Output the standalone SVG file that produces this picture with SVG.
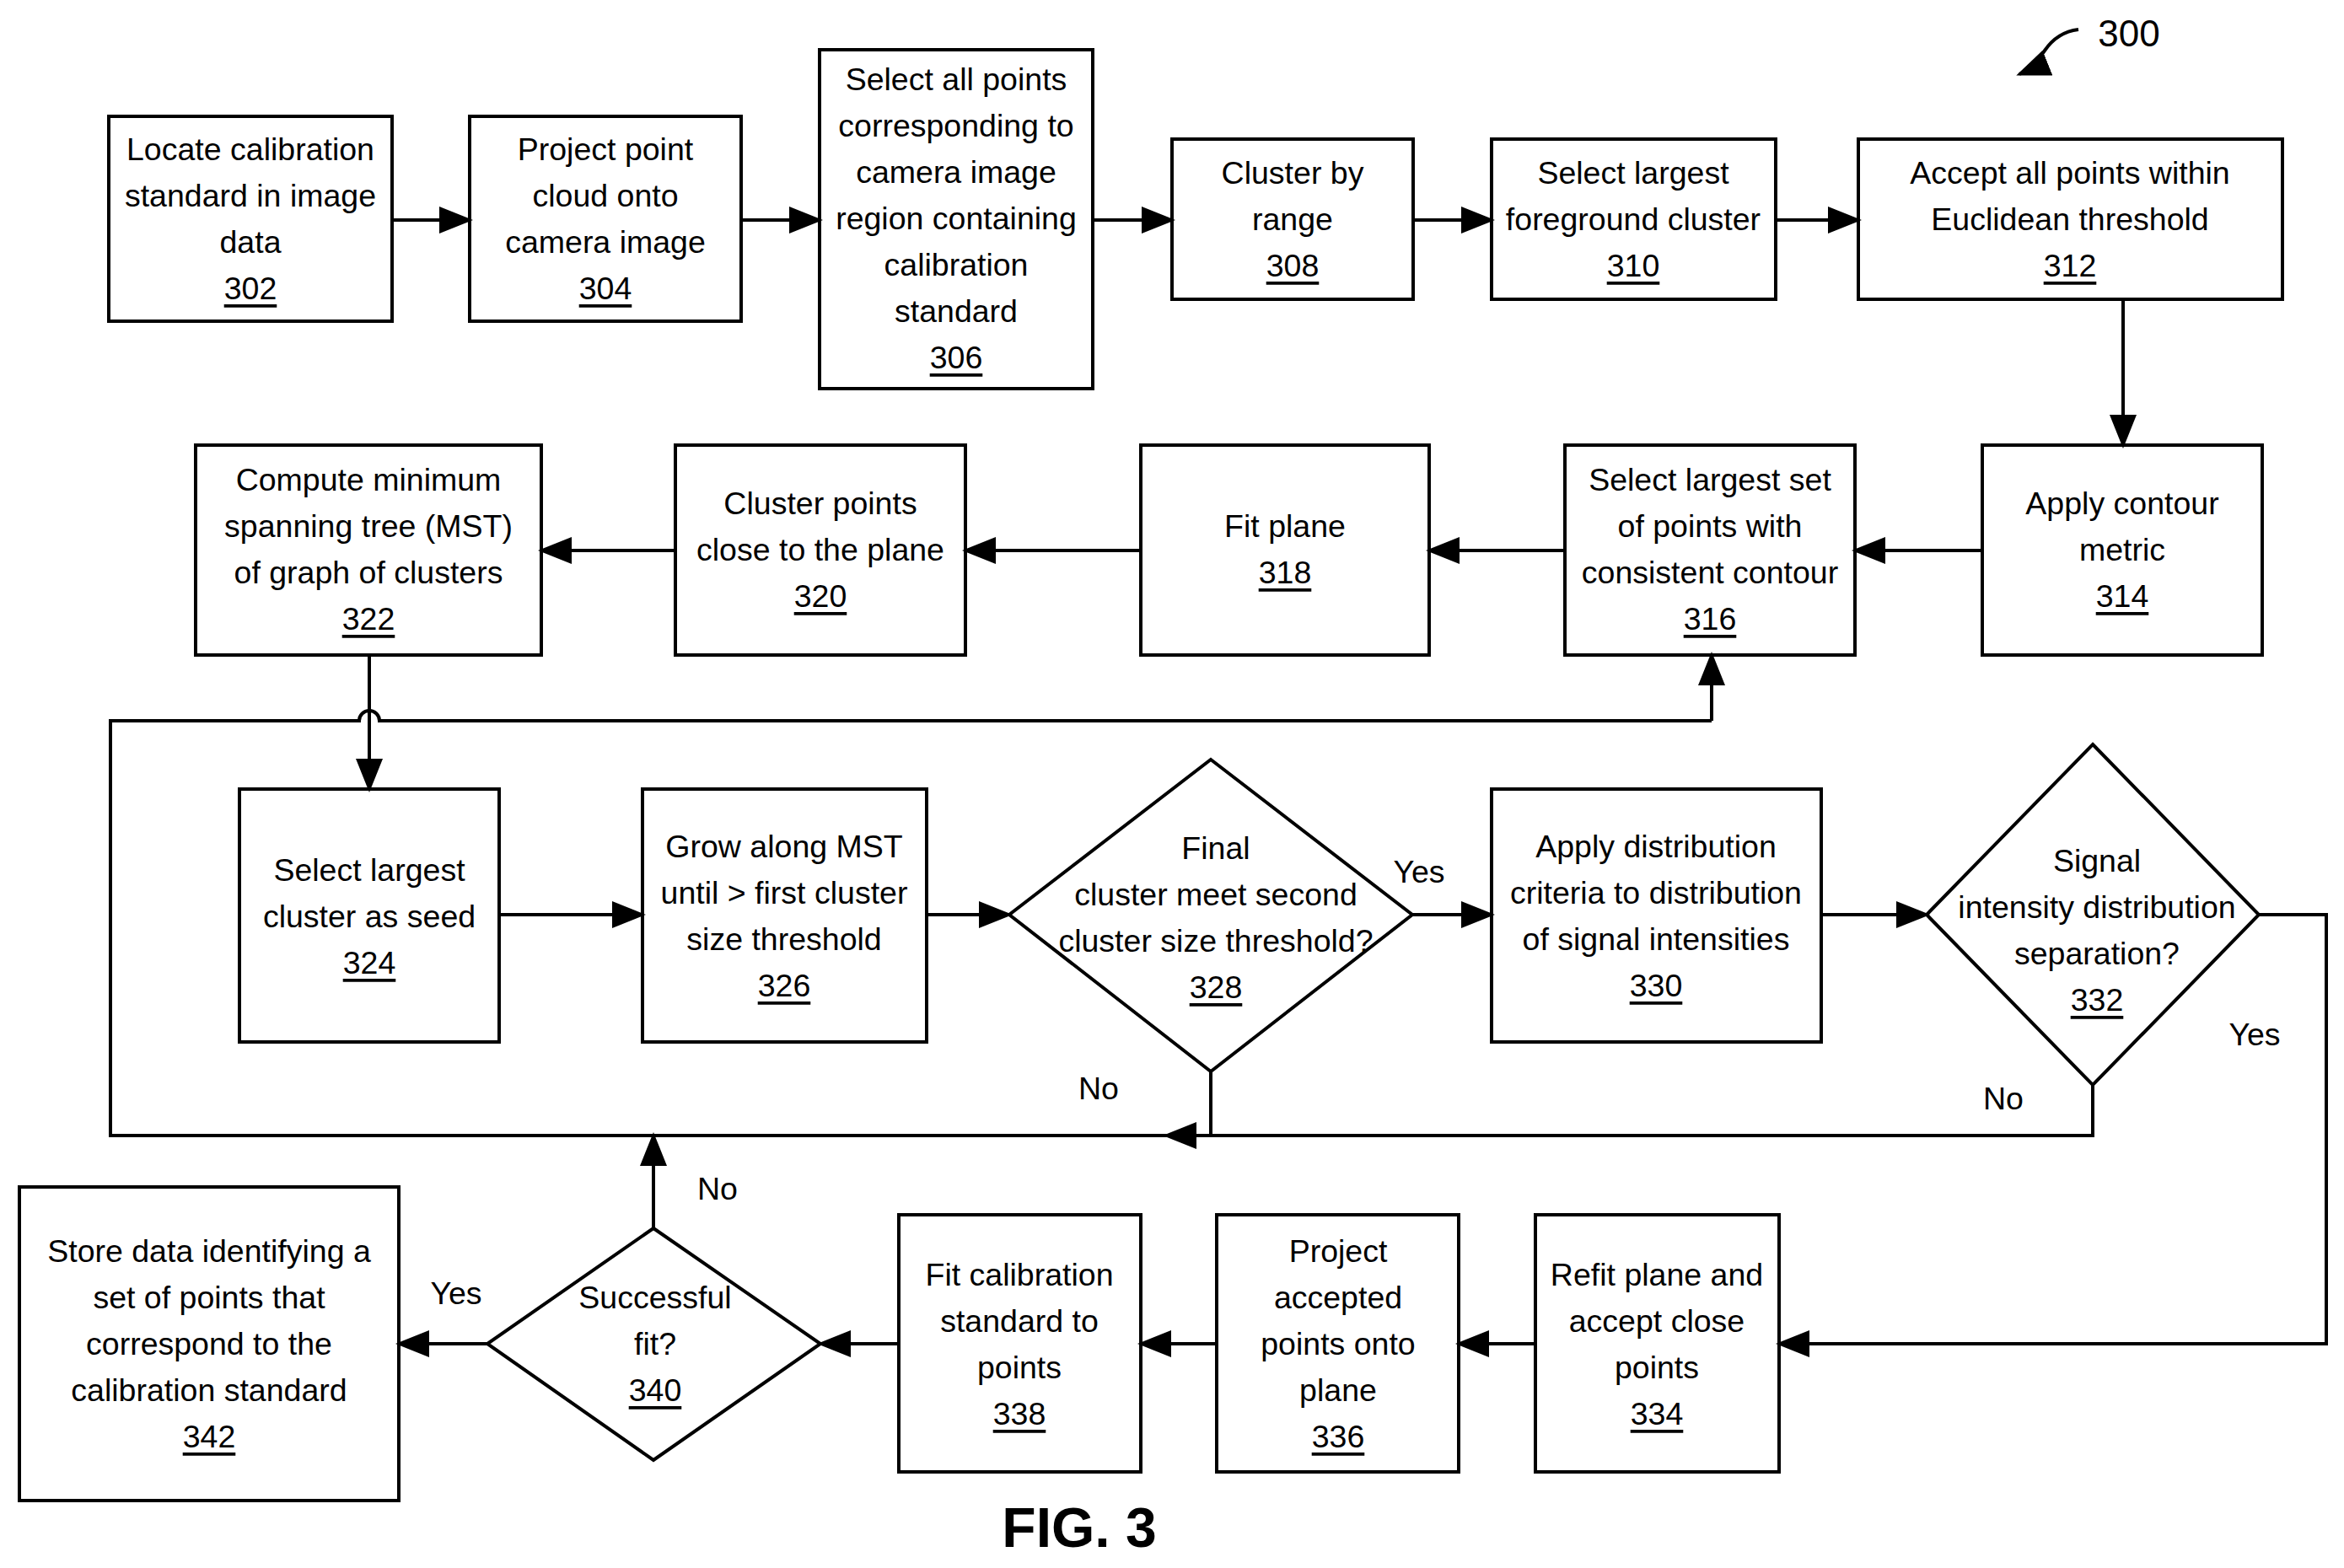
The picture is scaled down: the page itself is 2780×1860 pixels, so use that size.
<svg xmlns="http://www.w3.org/2000/svg" width="2780" height="1860" viewBox="0 0 2780 1860">
<style>
.b{fill:#fff;stroke:#000;stroke-width:4}
.t{font-family:"Liberation Sans",Arial,sans-serif;font-size:37.5px;text-anchor:middle;dominant-baseline:central;fill:#000}
.u{text-decoration:underline}
.c{fill:none;stroke:#000;stroke-width:4}
</style>
<defs>
<marker id="m" viewBox="0 0 10 8" refX="9" refY="4" markerWidth="40" markerHeight="32" orient="auto" markerUnits="userSpaceOnUse"><path d="M0,0L10,4L0,8z"/></marker></defs>
<rect width="2780" height="1860" fill="#fff"/>
<g id="n302"><rect class="b" x="129" y="138" width="336" height="243"/><text class="t" x="297" y="177">Locate calibration</text><text class="t" x="297" y="232">standard in image</text><text class="t" x="297" y="287">data</text><text class="t u" x="297" y="342">302</text></g>
<g id="n304"><rect class="b" x="557" y="138" width="322" height="243"/><text class="t" x="718" y="177">Project point</text><text class="t" x="718" y="232">cloud onto</text><text class="t" x="718" y="287">camera image</text><text class="t u" x="718" y="342">304</text></g>
<g id="n306"><rect class="b" x="972" y="59" width="324" height="402"/><text class="t" x="1134" y="94">Select all points</text><text class="t" x="1134" y="149">corresponding to</text><text class="t" x="1134" y="204">camera image</text><text class="t" x="1134" y="259">region containing</text><text class="t" x="1134" y="314">calibration</text><text class="t" x="1134" y="369">standard</text><text class="t u" x="1134" y="424">306</text></g>
<g id="n308"><rect class="b" x="1390" y="165" width="286" height="190"/><text class="t" x="1533" y="205">Cluster by</text><text class="t" x="1533" y="260">range</text><text class="t u" x="1533" y="315">308</text></g>
<g id="n310"><rect class="b" x="1769" y="165" width="337" height="190"/><text class="t" x="1937" y="205">Select largest</text><text class="t" x="1937" y="260">foreground cluster</text><text class="t u" x="1937" y="315">310</text></g>
<g id="n312"><rect class="b" x="2204" y="165" width="503" height="190"/><text class="t" x="2455" y="205">Accept all points within</text><text class="t" x="2455" y="260">Euclidean threshold</text><text class="t u" x="2455" y="315">312</text></g>
<g id="n314"><rect class="b" x="2351" y="528" width="332" height="249"/><text class="t" x="2517" y="597">Apply contour</text><text class="t" x="2517" y="652">metric</text><text class="t u" x="2517" y="707">314</text></g>
<g id="n316"><rect class="b" x="1856" y="528" width="344" height="249"/><text class="t" x="2028" y="569">Select largest set</text><text class="t" x="2028" y="624">of points with</text><text class="t" x="2028" y="679">consistent contour</text><text class="t u" x="2028" y="734">316</text></g>
<g id="n318"><rect class="b" x="1353" y="528" width="342" height="249"/><text class="t" x="1524" y="624">Fit plane</text><text class="t u" x="1524" y="679">318</text></g>
<g id="n320"><rect class="b" x="801" y="528" width="344" height="249"/><text class="t" x="973" y="597">Cluster points</text><text class="t" x="973" y="652">close to the plane</text><text class="t u" x="973" y="707">320</text></g>
<g id="n322"><rect class="b" x="232" y="528" width="410" height="249"/><text class="t" x="437" y="569">Compute minimum</text><text class="t" x="437" y="624">spanning tree (MST)</text><text class="t" x="437" y="679">of graph of clusters</text><text class="t u" x="437" y="734">322</text></g>
<g id="n324"><rect class="b" x="284" y="936" width="308" height="300"/><text class="t" x="438" y="1032">Select largest</text><text class="t" x="438" y="1087">cluster as seed</text><text class="t u" x="438" y="1142">324</text></g>
<g id="n326"><rect class="b" x="762" y="936" width="337" height="300"/><text class="t" x="930" y="1004">Grow along MST</text><text class="t" x="930" y="1059">until &gt; first cluster</text><text class="t" x="930" y="1114">size threshold</text><text class="t u" x="930" y="1169">326</text></g>
<g id="n328"><path class="b" d="M1436,901L1675,1085L1436,1271L1197,1085z"/><text class="t" x="1442" y="1006">Final</text><text class="t" x="1442" y="1061">cluster meet second</text><text class="t" x="1442" y="1116">cluster size threshold?</text><text class="t u" x="1442" y="1171">328</text></g>
<g id="n330"><rect class="b" x="1769" y="936" width="391" height="300"/><text class="t" x="1964" y="1004">Apply distribution</text><text class="t" x="1964" y="1059">criteria to distribution</text><text class="t" x="1964" y="1114">of signal intensities</text><text class="t u" x="1964" y="1169">330</text></g>
<g id="n332"><path class="b" d="M2482,883L2679,1085L2482,1287L2285,1085z"/><text class="t" x="2487" y="1021">Signal</text><text class="t" x="2487" y="1076">intensity distribution</text><text class="t" x="2487" y="1131">separation?</text><text class="t u" x="2487" y="1186">332</text></g>
<g id="n334"><rect class="b" x="1821" y="1441" width="289" height="305"/><text class="t" x="1965" y="1512">Refit plane and</text><text class="t" x="1965" y="1567">accept close</text><text class="t" x="1965" y="1622">points</text><text class="t u" x="1965" y="1677">334</text></g>
<g id="n336"><rect class="b" x="1443" y="1441" width="287" height="305"/><text class="t" x="1587" y="1484">Project</text><text class="t" x="1587" y="1539">accepted</text><text class="t" x="1587" y="1594">points onto</text><text class="t" x="1587" y="1649">plane</text><text class="t u" x="1587" y="1704">336</text></g>
<g id="n338"><rect class="b" x="1066" y="1441" width="287" height="305"/><text class="t" x="1209" y="1512">Fit calibration</text><text class="t" x="1209" y="1567">standard to</text><text class="t" x="1209" y="1622">points</text><text class="t u" x="1209" y="1677">338</text></g>
<g id="n340"><path class="b" d="M775,1457L973,1594L775,1732L578,1594z"/><text class="t" x="777" y="1539">Successful</text><text class="t" x="777" y="1594">fit?</text><text class="t u" x="777" y="1649">340</text></g>
<g id="n342"><rect class="b" x="23" y="1408" width="450" height="372"/><text class="t" x="248" y="1484">Store data identifying a</text><text class="t" x="248" y="1539">set of points that</text><text class="t" x="248" y="1594">correspond to the</text><text class="t" x="248" y="1649">calibration standard</text><text class="t u" x="248" y="1704">342</text></g>
<g id="connectors">
<path class="c" marker-end="url(#m)" d="M465,261H557"/>
<path class="c" marker-end="url(#m)" d="M879,261H972"/>
<path class="c" marker-end="url(#m)" d="M1296,261H1390"/>
<path class="c" marker-end="url(#m)" d="M1676,261H1769"/>
<path class="c" marker-end="url(#m)" d="M2106,261H2204"/>
<path class="c" marker-end="url(#m)" d="M2518,355V528"/>
<path class="c" marker-end="url(#m)" d="M2351,653H2200"/>
<path class="c" marker-end="url(#m)" d="M1856,653H1695"/>
<path class="c" marker-end="url(#m)" d="M1353,653H1145"/>
<path class="c" marker-end="url(#m)" d="M801,653H642"/>
<path class="c" marker-end="url(#m)" d="M438,777V936"/>
<path class="c" d="M2482,1287V1347H131V855H426A12,12 0 0 1 450,855H2030"/>
<path class="c" marker-end="url(#m)" d="M2030,855V777"/>
<path class="c" marker-end="url(#m)" d="M592,1085H762"/>
<path class="c" marker-end="url(#m)" d="M1099,1085H1197"/>
<path class="c" marker-end="url(#m)" d="M1675,1085H1769"/>
<path class="c" marker-end="url(#m)" d="M2160,1085H2285"/>
<path class="c" marker-end="url(#m)" d="M1436,1271V1347H1383"/>
<path class="c" marker-end="url(#m)" d="M2679,1085H2759V1594H2110"/>
<path class="c" marker-end="url(#m)" d="M1821,1594H1730"/>
<path class="c" marker-end="url(#m)" d="M1443,1594H1353"/>
<path class="c" marker-end="url(#m)" d="M1066,1594H973"/>
<path class="c" marker-end="url(#m)" d="M578,1594H473"/>
<path class="c" marker-end="url(#m)" d="M775,1457V1347"/>
<path class="c" marker-end="url(#m)" d="M2465,35Q2440,38 2425,60T2395,88"/>
</g>
<text class="t" x="1683" y="1034">Yes</text>
<text class="t" x="2674" y="1227">Yes</text>
<text class="t" x="541" y="1534">Yes</text>
<text class="t" x="1303" y="1291">No</text>
<text class="t" x="2376" y="1303">No</text>
<text class="t" x="851" y="1410">No</text>
<text class="t" x="2525" y="39" style="font-size:44px">300</text>
<text class="t" x="1280" y="1812" style="font-size:66px;font-weight:bold">FIG. 3</text>
</svg>
